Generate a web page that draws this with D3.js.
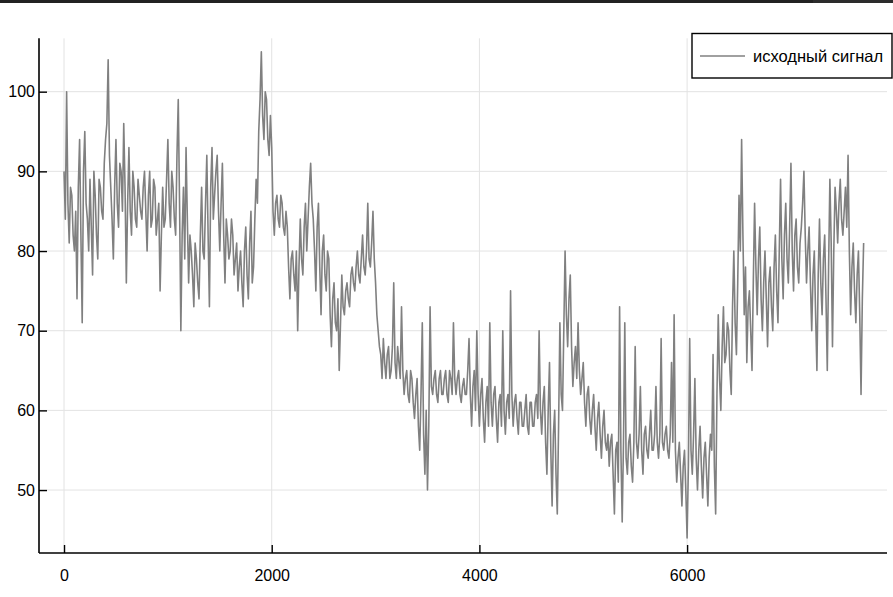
<!DOCTYPE html>
<html><head><meta charset="utf-8">
<script src="https://cdn.jsdelivr.net/npm/d3@7"></script>
<style>body{margin:0;background:#fff}svg{display:block}text{font-family:"Liberation Sans",Arial,sans-serif}</style>
</head><body><svg id="c" width="893" height="597"></svg>
<script>
// signal: samples every 25 units ...
const step = 25;
const signal = [
 90,100,81,87,80,74,94,71,95,84, 89,77,87,79,88,84,94,104,88,79,
 94,83,90,96,76,93,82,88,83,87, 84,90,80,90,84,88,84,75,88,84,
 94,83,88,82,99,70,88,93,76,80, 73,79,74,88,79,92,73,93,87,92,
 80,91,76,82,80,82,79,75,80,73, 83,74,85,78,89,95,105,94,99,92,
 93,82,87,83,86,82,83,74,80,75, 70,84,77,86,84,91,84,75,86,72,
 82,75,79,68,76,70,65,77,72,76, 73,78,75,80,76,82,77,86,78,85,
 76,70,67,69,64,68,65,76,64,66, 73,62,65,61,64,59,64,55,71,52,
 50,73,62,65,61,65,62,65,61,64, 71,62,65,61,64,62,69,58,65,70,
 58,64,56,63,71,58,63,56,62,70, 57,62,75,58,62,57,61,58,62,57,
 61,58,62,70,57,63,52,66,48,60, 47,71,60,80,68,77,63,68,71,62,
 66,58,63,57,62,55,61,54,60,55, 53,57,47,56,73,46,71,52,57,51,
 68,54,63,52,58,54,60,55,63,54, 69,55,58,54,66,72,51,56,48,55,
 44,69,52,64,50,58,49,56,48,57, 67,47,72,60,73,67,70,62,80,67,
 87,94,72,66,75,65,86,72,83,70, 80,68,78,70,82,71,89,74,86,76,
 91,75,84,76,83,90,76,83,70,80, 65,84,72,82,65,89,68,88,81,89,
 82,88,92,72,81,71,80,62,81
];
// ... and the dense core band between them (at the half steps)
const signalMid = [
 84,86,88,82,85,88,82,90,86,80, 83,90,82,89,85,91,96,92,84,88,
 86,91,85,88,86,85,90,84,89,85, 88,85,87,83,89,82,86,82,83,89,
 86,90,84,92,86,82,79,84,82,77, 81,76,82,80,86,82,88,84,90,85,
 86,82,84,79,84,77,81,78,76,80, 77,81,76,84,86,99,97,100,94,97,
 85,86,84,87,83,85,78,79,77,80, 78,79,83,80,88,86,80,83,78,80,
 77,80,72,74,71,74,71,73,75,74, 77,76,78,77,79,78,80,79,81,79,
 72,68,64,66,67,64,68,66,68,64, 65,64,62,65,61,62,58,62,57,60,
 58,63,64,62,64,62,64,62,65,62, 64,64,62,63,62,65,62,63,60,62,
 62,59,61,58,61,62,59,61,58,60, 61,59,62,61,59,61,58,60,58,61,
 58,61,59,60,61,56,60,55,57,52, 58,62,70,72,74,68,66,64,65,64,
 61,62,59,60,58,59,57,58,56,57, 56,52,55,51,55,56,54,56,53,56,
 56,57,55,57,55,57,55,57,56,57, 56,57,55,57,56,55,54,52,53,50,
 53,55,57,54,55,53,54,52,54,55, 53,62,64,68,66,71,65,73,71,76,
 80,82,78,73,70,76,78,79,74,76, 74,76,73,78,75,80,79,82,79,83,
 80,82,78,81,86,82,80,76,77,72, 77,76,79,74,78,81,80,85,86,84,
 85,83,80,78,75,77,72,74
];
const xTicks = [0, 2000, 4000, 6000];
const yTicks = [50, 60, 70, 80, 90, 100];
const legendLabel = "исходный сигнал";

const data = [];
signal.forEach((v, i) => {
  data.push([i * step, v]);
  if (i < signalMid.length) data.push([i * step + step / 2, signalMid[i]]);
});

const svg = d3.select("#c");
const L = 39, R = 887, T = 38.3, B = 553;
const x = d3.scaleLinear().domain([-241, 7925]).range([L, R]);
const y = d3.scaleLinear().domain([42.1, 106.7]).range([B, T]);

svg.append("rect").attr("x",0).attr("y",0).attr("width",813).attr("height",3).attr("fill","#222");
svg.append("rect").attr("x",813).attr("y",0).attr("width",80).attr("height",3).attr("fill","#2c2c2c");

// grid
const g = svg.append("g");
g.selectAll(".vx").data(xTicks).join("line")
  .attr("x1", d => x(d)).attr("x2", d => x(d)).attr("y1", T).attr("y2", B)
  .attr("stroke", "#e3e3e3").attr("stroke-width", 1);
g.selectAll(".hy").data(yTicks).join("line")
  .attr("y1", d => y(d)).attr("y2", d => y(d)).attr("x1", L).attr("x2", R)
  .attr("stroke", "#e3e3e3").attr("stroke-width", 1);

// signal
svg.append("path").datum(data)
  .attr("fill", "none").attr("stroke", "#808080").attr("stroke-width", 1.6)
  .attr("stroke-linejoin", "round")
  .attr("d", d3.line().x(d => x(d[0])).y(d => y(d[1])));

// axes
const xAxis = d3.axisBottom(x).tickValues(xTicks).tickSizeInner(-8).tickSizeOuter(0).tickPadding(17).tickFormat(d3.format("d"));
const yAxis = d3.axisLeft(y).tickValues(yTicks).tickSizeInner(-8).tickSizeOuter(0).tickPadding(4).tickFormat(d3.format("d"));
const ax = svg.append("g").attr("transform", `translate(0,${B})`).call(xAxis);
const ay = svg.append("g").attr("transform", `translate(${L},0)`).call(yAxis);
[ax, ay].forEach(a => {
  a.select(".domain").attr("stroke", "#000").attr("stroke-width", 1.6);
  a.selectAll(".tick line").attr("stroke", "#000").attr("stroke-width", 1.4);
  a.selectAll(".tick text").attr("fill", "#000").style("font-size", "16px").style("font-family", '"Liberation Sans",Arial,sans-serif');
});
ax.select(".domain").attr("d", `M${L},0H${R}`);
ay.select(".domain").attr("d", `M0,${T}V${B}`);

// legend
const lg = svg.append("g");
lg.append("rect").attr("x", 692).attr("y", 33.5).attr("width", 200).attr("height", 44.5)
  .attr("fill", "#fff").attr("stroke", "#000").attr("stroke-width", 1.4);
lg.append("line").attr("x1", 700).attr("x2", 745).attr("y1", 56).attr("y2", 56)
  .attr("stroke", "#808080").attr("stroke-width", 1.4);
lg.append("text").attr("x", 753).attr("y", 62).attr("fill", "#000").style("font-size", "16.5px").text(legendLabel);
</script></body></html>
